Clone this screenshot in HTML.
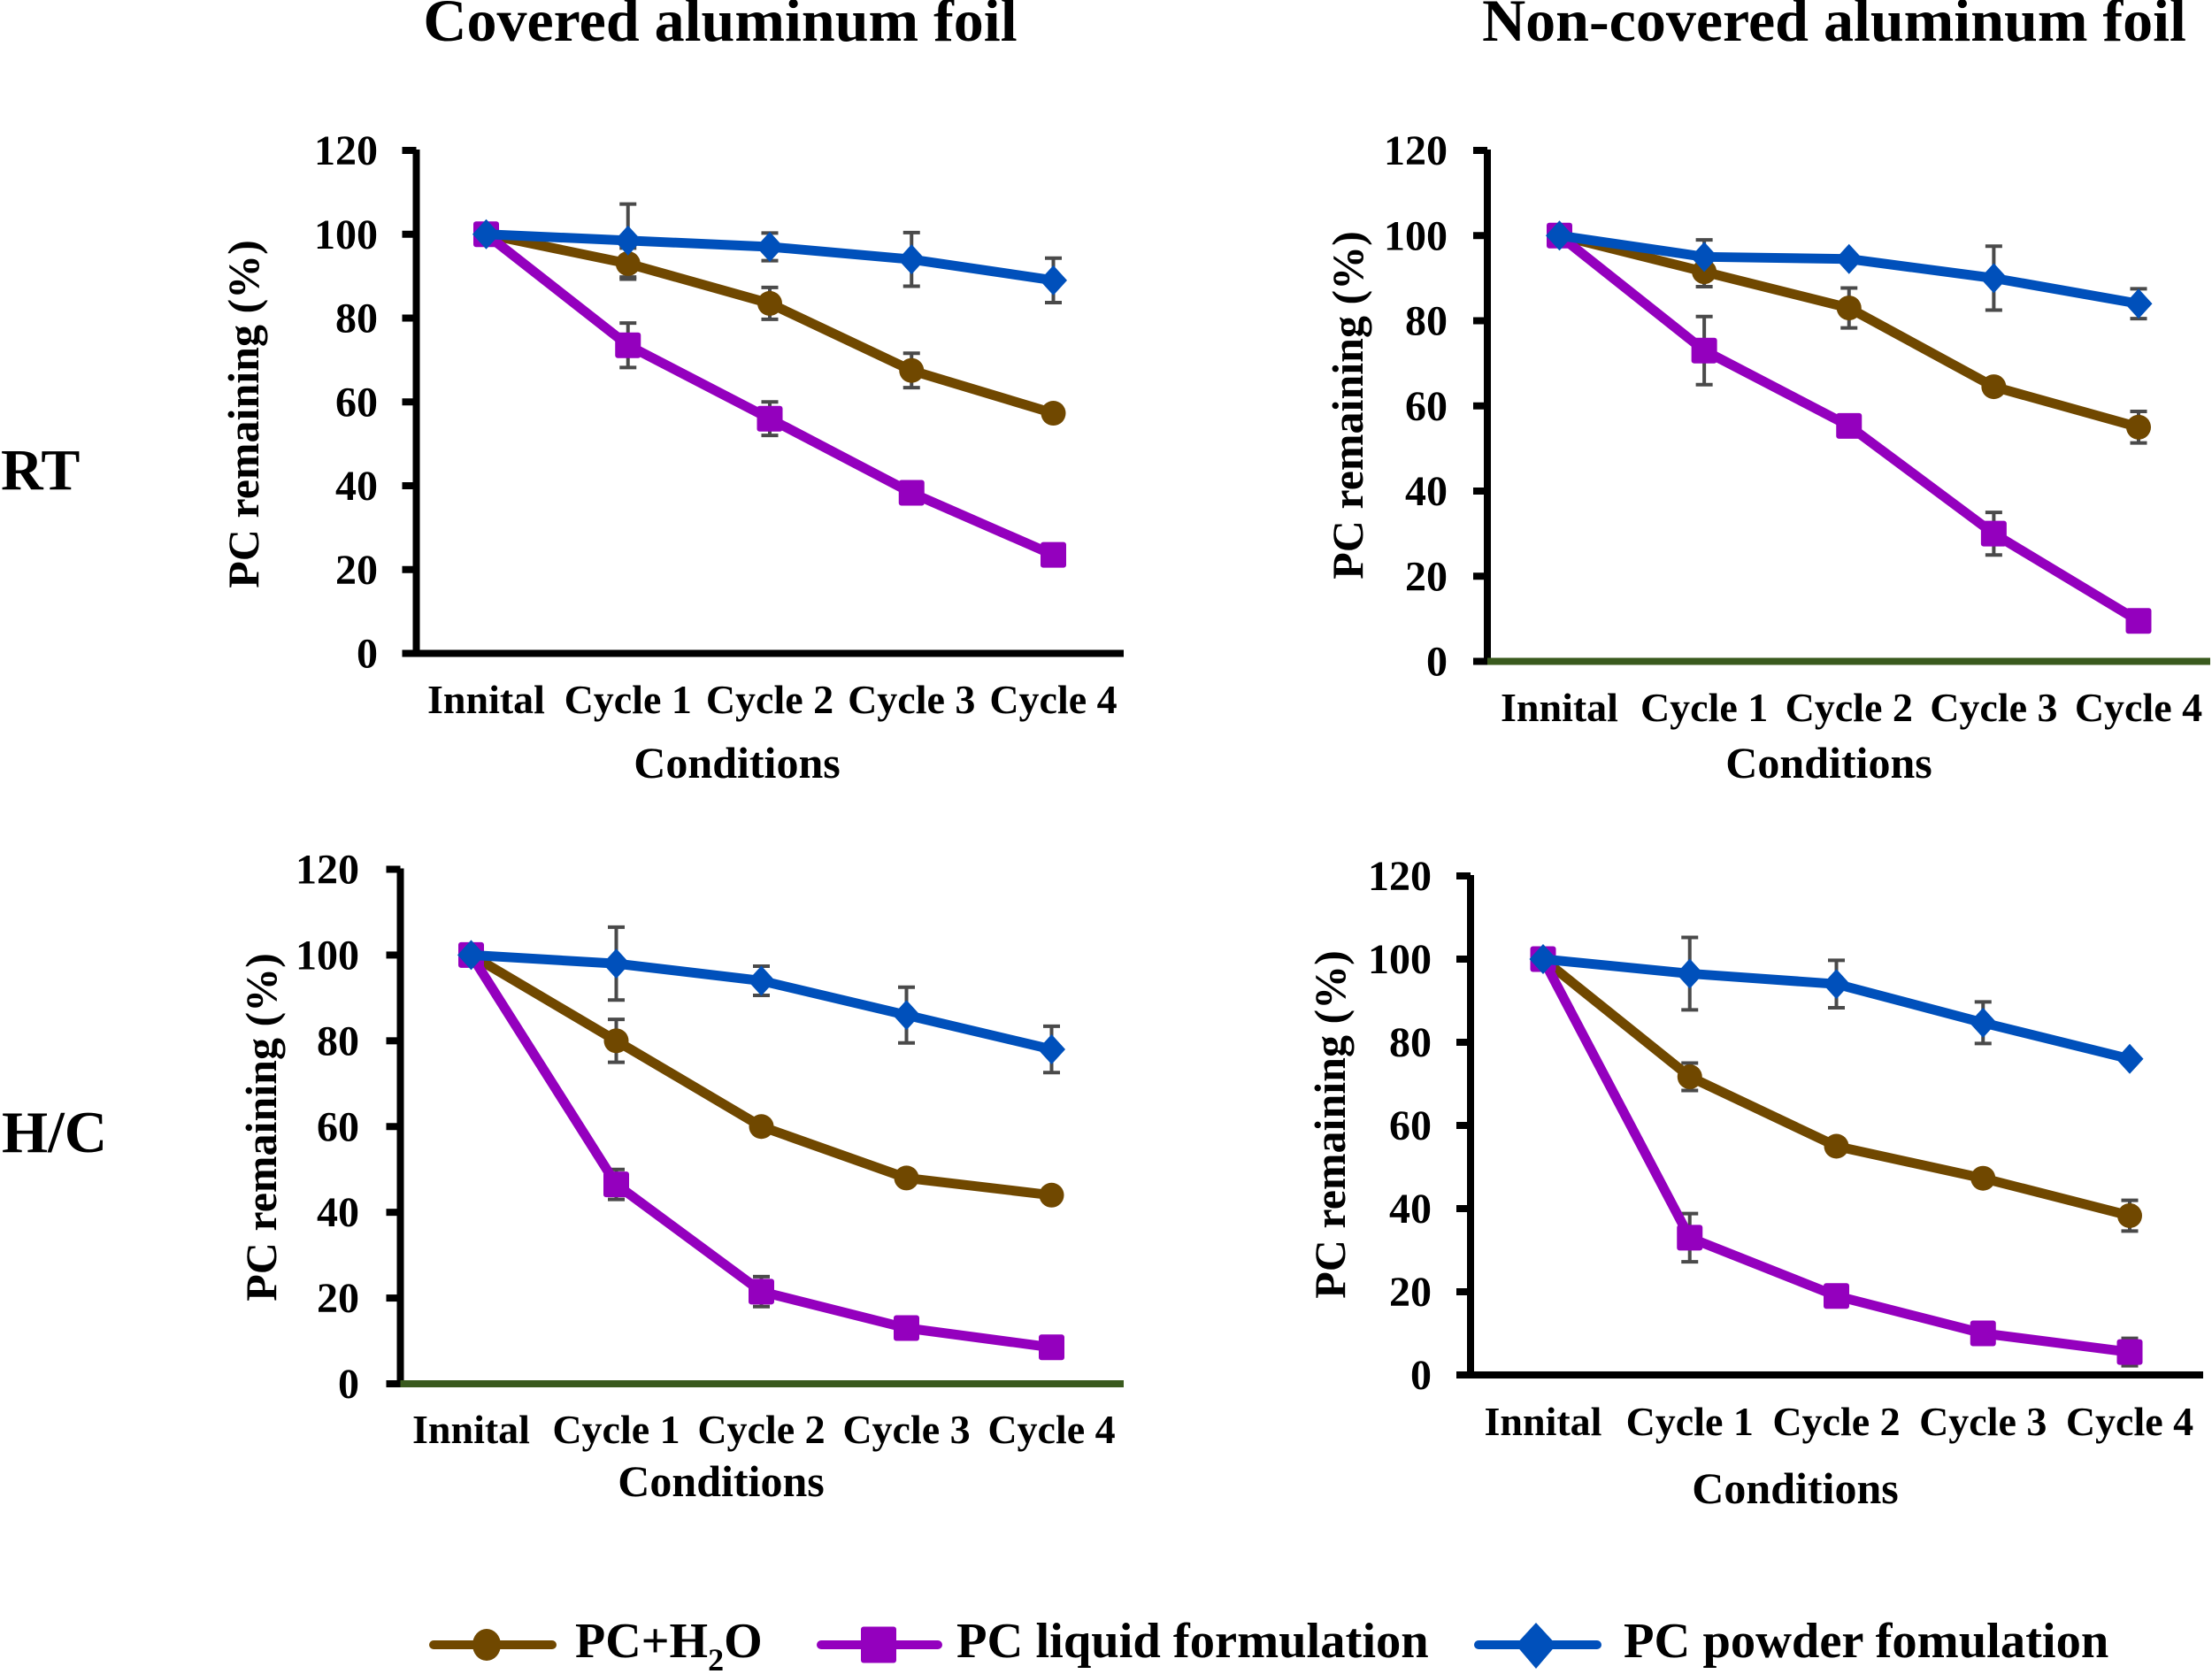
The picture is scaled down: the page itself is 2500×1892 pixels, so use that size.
<!DOCTYPE html>
<html>
<head>
<meta charset="utf-8">
<title>PC remaining by condition</title>
<style>
html,body{margin:0;padding:0;background:#fff;}
svg{display:block;}
text{font-family:"Liberation Serif",serif;font-weight:bold;fill:#000;}
</style>
</head>
<body>
<svg id="figure" width="2500" height="1892" viewBox="0 0 2500 1892" xmlns="http://www.w3.org/2000/svg">
  <text x="814" y="46" font-size="68" text-anchor="middle">Covered aluminum foil</text>
  <text x="2073" y="46" font-size="68" text-anchor="middle">Non-covered aluminum foil</text>
  <text x="1" y="553" font-size="66">RT</text>
  <text x="2" y="1302" font-size="67">H/C</text>
  <g id="panels"></g>
  <g>
    <g>
      <line x1="490" y1="1859" x2="624" y2="1859" stroke="#704800" stroke-width="10" stroke-linecap="round"/>
      <ellipse cx="550" cy="1859" rx="16" ry="18" fill="#704800"/>
      <text x="650" y="1873" font-size="56">PC+H<tspan font-size="36" dy="15">2</tspan><tspan dy="-15">O</tspan></text>
    </g>
    <g>
      <line x1="928" y1="1859" x2="1060" y2="1859" stroke="#9400BE" stroke-width="10" stroke-linecap="round"/>
      <rect x="973" y="1838.500" width="40" height="41" rx="3" fill="#9400BE"/>
      <text x="1081" y="1873" font-size="56.500">PC liquid formulation</text>
    </g>
    <g>
      <line x1="1671" y1="1859" x2="1805" y2="1859" stroke="#0050BB" stroke-width="10" stroke-linecap="round"/>
      <polygon points="1736,1834 1759,1859 1736,1886 1713,1859" fill="#0050BB"/>
      <text x="1835" y="1873" font-size="56.500">PC powder fomulation</text>
    </g>
  </g>
</svg>
<script>
const categories = ['Innital', 'Cycle 1', 'Cycle 2', 'Cycle 3', 'Cycle 4'];
const yTickLabels = [0, 20, 40, 60, 80, 100, 120];

const coveredRtWater = [100, 93, 83.5, 67.5, 57.3];
const coveredRtWaterErr = [0, 3.7, 3.8, 4.1, 1];
const coveredRtLiquid = [100, 73.5, 56, 38.3, 23.5];
const coveredRtLiquidErr = [0, 5.3, 4, 1, 1];
const coveredRtPowder = [100, 98.5, 97, 94, 89];
const coveredRtPowderErr = [0, 8.7, 3.3, 6.4, 5.3];

const openRtWater = [100, 91.5, 83, 64.5, 55];
const openRtWaterErr = [0, 3.5, 4.7, 1, 3.7];
const openRtLiquid = [100, 73, 55.3, 30, 9.5];
const openRtLiquidErr = [0, 8, 1, 5, 1];
const openRtPowder = [100, 95, 94.5, 90, 84];
const openRtPowderErr = [0, 4, 0.5, 7.5, 3.5];

const coveredHcWater = [100, 80, 60, 48, 44];
const coveredHcWaterErr = [0, 5, 1, 1, 1];
const coveredHcLiquid = [100, 46.5, 21.5, 13, 8.5];
const coveredHcLiquidErr = [0, 3.5, 3.5, 1, 1];
const coveredHcPowder = [100, 98, 94, 86, 78];
const coveredHcPowderErr = [0, 8.5, 3.4, 6.5, 5.4];

const openHcWater = [100, 71.7, 55, 47.3, 38.3];
const openHcWaterErr = [0, 3.3, 1, 1, 3.7];
const openHcLiquid = [100, 33, 19, 10, 5.5];
const openHcLiquidErr = [0, 5.8, 1, 1, 3.3];
const openHcPowder = [100, 96.5, 94, 84.7, 76];
const openHcPowderErr = [0, 8.7, 5.7, 5, 1];

const NS = 'http://www.w3.org/2000/svg';
const COLORS = { water: '#704800', liquid: '#9400BE', powder: '#0050BB' };

function make(parent, tag, attrs, txt) {
  const el = document.createElementNS(NS, tag);
  for (const k in attrs) el.setAttribute(k, attrs[k]);
  if (txt !== undefined) el.textContent = txt;
  parent.appendChild(el);
  return el;
}

function drawPanel(p) {
  const root = document.getElementById('panels');
  const g = make(root, 'g', {});
  
  

  const xScale = i => p.x0 + (p.x4 - p.x0) * i / (categories.length - 1);
  const yScale = v => p.yZero + (p.yTop - p.yZero) * v / 120;

  // axes
  const yAxis = make(g, 'line', { x1: p.axisX, y1: yScale(120) - 1, x2: p.axisX, y2: yScale(0) + 4, stroke: '#000', 'stroke-width': 8 });
  
  
  yTickLabels.forEach(v => {
    const tick = make(g, 'line', { x1: p.axisX - 16, y1: yScale(v), x2: p.axisX, y2: yScale(v), stroke: '#000', 'stroke-width': 8 });
    
    
  });
  const xAxis = make(g, 'line', { x1: p.axisX, y1: yScale(0), x2: p.xEnd, y2: yScale(0), stroke: p.baseColor, 'stroke-width': 8 });
  
  

  // y tick labels
  yTickLabels.forEach(v => {
    const t = make(g, 'text', { x: p.labelX, y: yScale(v) + 16, 'font-size': 48, 'text-anchor': 'end' }, String(v));
    
    
  });

  // x category labels
  categories.forEach((c, i) => {
    const t = make(g, 'text', { x: xScale(i), y: p.catY, 'font-size': 46, 'text-anchor': 'middle' }, c);
    
    
  });

  const xt = make(g, 'text', { x: p.xTitleX, y: p.xTitleY, 'font-size': 50, 'text-anchor': 'middle' }, 'Conditions');
  
  
  const yt = make(g, 'text', { x: 0, y: 0, 'font-size': 50, 'text-anchor': 'middle', transform: 'translate(' + p.yTitleX + ' ' + p.yTitleY + ') rotate(-90)' }, 'PC remaining (%)');
  
  

  // error bars below all series
  p.series.forEach(s => {
    s.values.forEach((v, i) => {
      const e = s.errors[i];
      if (!e) return;
      const eg = make(g, 'g', { stroke: '#4A4A4A', 'stroke-width': 4, fill: 'none' });
      
      
      const x = xScale(i), hi = yScale(v + e), lo = yScale(v - e);
      make(eg, 'line', { x1: x, y1: hi, x2: x, y2: lo });
      make(eg, 'line', { x1: x - 9.5, y1: hi, x2: x + 9.5, y2: hi });
      make(eg, 'line', { x1: x - 9.5, y1: lo, x2: x + 9.5, y2: lo });
    });
  });

  // lines and markers
  p.series.forEach(s => {
    const pts = s.values.map((v, i) => xScale(i) + ',' + yScale(v)).join(' ');
    const line = make(g, 'polyline', { points: pts, fill: 'none', stroke: COLORS[s.key], 'stroke-width': 11, 'stroke-linejoin': 'round' });
    
    
    s.values.forEach((v, i) => {
      const x = xScale(i), y = yScale(v);
      let m;
      if (s.key === 'water') {
        m = make(g, 'circle', { cx: x, cy: y, r: 14, fill: COLORS.water });
      } else if (s.key === 'liquid') {
        m = make(g, 'rect', { x: x - 14.5, y: y - 14.5, width: 29, height: 29, rx: 3, fill: COLORS.liquid });
      } else {
        m = make(g, 'polygon', { points: [x, y - 17, x + 15.5, y, x, y + 17, x - 15.5, y].join(' '), fill: COLORS.powder });
      }
      
      
    });
  });
}

const panelList = [
  { id: 'covered-rt', axisX: 470.5, labelX: 427, xEnd: 1270, x0: 549.5, x4: 1190.5, yTop: 170, yZero: 738.5, baseColor: '#000', catY: 806, xTitleX: 833, xTitleY: 879, yTitleX: 292, yTitleY: 468,
    series: [ { key: 'water', values: coveredRtWater, errors: coveredRtWaterErr }, { key: 'liquid', values: coveredRtLiquid, errors: coveredRtLiquidErr }, { key: 'powder', values: coveredRtPowder, errors: coveredRtPowderErr } ] },
  { id: 'non-covered-rt', axisX: 1681, labelX: 1636, xEnd: 2498, x0: 1762.5, x4: 2417, yTop: 170, yZero: 747.5, baseColor: '#3A5A1E', catY: 815, xTitleX: 2067, xTitleY: 879, yTitleX: 1540, yTitleY: 458,
    series: [ { key: 'water', values: openRtWater, errors: openRtWaterErr }, { key: 'liquid', values: openRtLiquid, errors: openRtLiquidErr }, { key: 'powder', values: openRtPowder, errors: openRtPowderErr } ] },
  { id: 'covered-hc', axisX: 452.5, labelX: 406, xEnd: 1270, x0: 532.5, x4: 1188.5, yTop: 982.5, yZero: 1564, baseColor: '#3A5A1E', catY: 1631, xTitleX: 815, xTitleY: 1691, yTitleX: 312, yTitleY: 1274,
    series: [ { key: 'water', values: coveredHcWater, errors: coveredHcWaterErr }, { key: 'liquid', values: coveredHcLiquid, errors: coveredHcLiquidErr }, { key: 'powder', values: coveredHcPowder, errors: coveredHcPowderErr } ] },
  { id: 'non-covered-hc', axisX: 1662, labelX: 1618, xEnd: 2490, x0: 1744, x4: 2407, yTop: 990, yZero: 1554, baseColor: '#000', catY: 1622, xTitleX: 2029, xTitleY: 1699, yTitleX: 1520, yTitleY: 1271,
    series: [ { key: 'water', values: openHcWater, errors: openHcWaterErr }, { key: 'liquid', values: openHcLiquid, errors: openHcLiquidErr }, { key: 'powder', values: openHcPowder, errors: openHcPowderErr } ] }
];
panelList.forEach(drawPanel);
</script>
</body>
</html>
